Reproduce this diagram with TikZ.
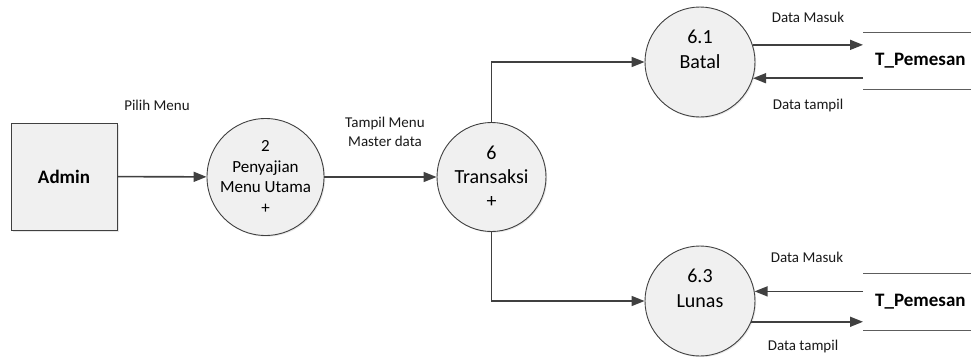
\documentclass[tikz,border=0pt]{standalone}
\usepackage{fontspec}
\setmainfont{Carlito}
\usetikzlibrary{arrows.meta,shadows}
\definecolor{linec}{HTML}{404040}
\definecolor{fillc}{HTML}{F0F0F0}
\begin{document}
\begin{tikzpicture}[x=1pt,y=-1pt,
  proc/.style={circle,draw=linec,line width=0.9pt,fill=fillc,inner sep=0pt,align=center,
    drop shadow={shadow xshift=1.2pt,shadow yshift=-1.2pt,opacity=0.18}},
  ent/.style={rectangle,draw=linec,line width=0.9pt,fill=fillc,inner sep=0pt,
    minimum width=106pt,minimum height=107pt,font=\bfseries\fontsize{19}{22}\selectfont,
    drop shadow={shadow xshift=1.5pt,shadow yshift=-1.5pt,opacity=0.2}},
  storebox/.style={anchor=west,text width=96pt,inner xsep=12pt,inner ysep=0pt,align=left,
    minimum height=57pt,font=\bfseries\fontsize{19}{22}\selectfont},
  storeline/.style={draw=linec!85,line width=1.3pt},
  flow/.style={draw=linec,line width=1.6pt,-{Triangle[length=13pt,width=10pt]}},
  lbl/.style={font=\fontsize{15}{19}\selectfont,text=black!90,inner sep=0pt,align=center}]
\useasboundingbox (0,0) rectangle (971,356);

% nodes
\node[ent] (admin) at (64,176.5) {Admin};
\node[proc,minimum size=117pt,font=\fontsize{17}{20.5}\selectfont] (p2) at (265.5,177)
  {2\\Penyajian\\Menu Utama\\+};
\node[proc,minimum size=109pt,font=\fontsize{20}{24}\selectfont] (p6) at (491.5,177)
  {6\\Transaksi\\+};
\node[proc,minimum size=110pt,font=\fontsize{20}{25}\selectfont] (p61) at (700,62)
  {6.1\\Batal\\\mbox{}};
\node[proc,minimum size=110pt,font=\fontsize{20}{25}\selectfont] (p63) at (700,301)
  {6.3\\Lunas\\\mbox{}};

\node[storebox] (s1) at (863,61) {T\_Pemesan};
\node[storebox] (s2) at (863,302) {T\_Pemesan};
\draw[storeline] (s1.north west) -- (s1.north east);
\draw[storeline] (s1.south west) -- (s1.south east);
\draw[storeline] (s2.north west) -- (s2.north east);
\draw[storeline] (s2.south west) -- (s2.south east);

% flows
\draw[flow] (admin) -- (p2);
\draw[flow] (p2) -- (p6);
\draw[flow] (p6.north) |- (p61.west);
\draw[flow] (p6.south) |- (p63.west);

\draw[flow] (p61.18) -- (p61.18 -| s1.west);
\draw[flow] (p61.-17) ++(110,0) coordinate (a1) (a1 -| s1.west) -- (p61.-17);
\draw[flow] (p63.10) ++(110,0) coordinate (a2) (a2 -| s2.west) -- (p63.10);
\draw[flow] (p63.-22) -- (p63.-22 -| s2.west);

% labels
\node[lbl] (l1) at (157,105) {Pilih Menu};
\node[lbl] (l2) at (385,132) {Tampil Menu\\Master data};
\node[lbl] (l3) at (808,17) {Data Masuk};
\node[lbl] (l4) at (808,105) {Data tampil};
\node[lbl] (l5) at (807,257) {Data Masuk};
\node[lbl] (l6) at (803,346) {Data tampil};
\end{tikzpicture}
\end{document}
